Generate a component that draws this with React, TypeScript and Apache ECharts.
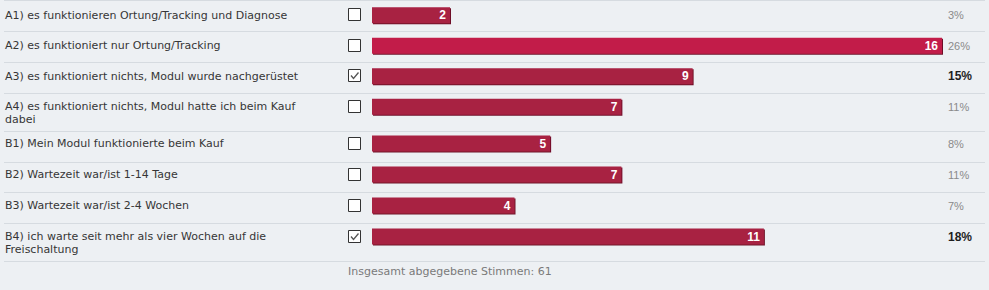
import React, { useEffect, useRef } from "react";
import * as echarts from "echarts";

const labelsA = [
  "A1) es funktionieren Ortung/Tracking und Diagnose",
  "A2) es funktioniert nur Ortung/Tracking",
  "A3) es funktioniert nichts, Modul wurde nachgerüstet",
  "A4) es funktioniert nichts, Modul hatte ich beim Kauf\ndabei",
];
const valuesA = [2, 16, 9, 7];
const checkedA = [0, 0, 1, 0];
const percentA = ["3%", "26%", "15%", "11%"];

const labelsB = [
  "B1) Mein Modul funktionierte beim Kauf",
  "B2) Wartezeit war/ist 1-14 Tage",
  "B3) Wartezeit war/ist 2-4 Wochen",
  "B4) ich warte seit mehr als vier Wochen auf die\nFreischaltung",
];
const valuesB = [5, 7, 4, 11];
const checkedB = [0, 0, 0, 1];
const percentB = ["8%", "11%", "7%", "18%"];

const footerLabel = "Insgesamt abgegebene Stimmen: ";

const LABEL_FONT = "DejaVu Sans";
const NUM_FONT = "Liberation Sans";

export default function App() {
  const ref = useRef<HTMLDivElement>(null);
  useEffect(() => {
    if (!ref.current) return;
    const chart = echarts.init(ref.current, undefined, { renderer: "svg" });
    const allValues = [...valuesA, ...valuesB];
    const maxV = Math.max(...allValues);
    const total = allValues.reduce((a, b) => a + b, 0);

    const groups = [
      { labels: labelsA, values: valuesA, checked: checkedA, pct: percentA, top: -2 },
      { labels: labelsB, values: valuesB, checked: checkedB, pct: percentB, top: 128 },
    ];

    const grid: any[] = [];
    const xAxis: any[] = [];
    const yAxis: any[] = [];
    const series: any[] = [];

    groups.forEach((g, gi) => {
      grid.push({ left: 372, width: 570, top: g.top, height: 124 });
      xAxis.push({
        gridIndex: gi,
        type: "value",
        min: 0,
        max: maxV,
        show: false,
      });
      yAxis.push({
        gridIndex: gi,
        type: "category",
        inverse: true,
        data: g.labels,
        axisLine: { show: false },
        axisTick: { show: false },
        splitLine: { show: false },
        axisLabel: {
          interval: 0,
          align: "left",
          margin: 367,
          color: "#363636",
          fontFamily: LABEL_FONT,
          fontSize: 11,
          lineHeight: 13,
          formatter: (v: string) => (v.includes("\n") ? "\n" + v : v),
        },
      });
      yAxis.push({
        gridIndex: gi,
        type: "category",
        inverse: true,
        position: "right",
        data: g.pct,
        axisLine: { show: false },
        axisTick: { show: false },
        splitLine: { show: false },
        axisLabel: {
          interval: 0,
          align: "left",
          margin: 6,
          formatter: (v: string, idx: number) =>
            g.checked[idx] ? `{b|${v}}` : `{n|${v}}`,
          rich: {
            b: { fontFamily: NUM_FONT, fontSize: 12, fontWeight: "bold", color: "#1e1e1e" },
            n: { fontFamily: NUM_FONT, fontSize: 11, color: "#8a8a8a" },
          },
        },
      });
      series.push({
        type: "bar",
        xAxisIndex: gi,
        yAxisIndex: gi * 2,
        data: g.values,
        barWidth: 16,
        barMinHeight: 78,
        itemStyle: {
          color: (p: any) => (p.value === maxV ? "#c21f49" : "#a82243"),
          shadowColor: "#6e1128",
          shadowOffsetX: 1,
          shadowOffsetY: 1,
          shadowBlur: 0,
        },
        label: {
          show: true,
          position: "insideRight",
          distance: 4,
          color: "#ffffff",
          fontFamily: NUM_FONT,
          fontWeight: "bold",
          fontSize: 12,
        },
      });
      series.push({
        type: "custom",
        xAxisIndex: gi,
        yAxisIndex: gi * 2,
        clip: false,
        data: g.checked.map((c, i) => [0, i, c]),
        encode: { x: 0, y: 1 },
        renderItem: (params: any, api: any) => {
          const p = api.coord([0, api.value(1)]);
          const x0 = p[0] - 23.5;
          const y0 = Math.round(p[1]) - 6.5;
          const children: any[] = [
            {
              type: "rect",
              shape: { x: x0, y: y0, width: 12, height: 12 },
              style: { fill: "#ffffff", stroke: "#333333", lineWidth: 1 },
            },
          ];
          if (api.value(2)) {
            children.push({
              type: "polyline",
              shape: {
                points: [
                  [x0 + 2.5, y0 + 6],
                  [x0 + 5, y0 + 9],
                  [x0 + 10, y0 + 3],
                ],
              },
              style: { stroke: "#555555", lineWidth: 1.3, fill: null },
            });
          }
          return { type: "group", children };
        },
      });
    });

    const sepYs = [0.5, 31.5, 62.5, 93.5, 131.5, 162.5, 192.5, 223.5, 261.5];
    const graphic: any[] = sepYs.map((y) => ({
      type: "line",
      shape: { x1: 4, y1: y, x2: 985, y2: y },
      style: { stroke: "#d6dbe0", lineWidth: 1 },
      silent: true,
    }));
    graphic.push({
      type: "text",
      x: 348,
      y: 271,
      style: {
        text: footerLabel + total,
        fill: "#7a7a7a",
        font: `11px "${LABEL_FONT}"`,
        verticalAlign: "middle",
      },
    });

    chart.setOption({
      animation: false,
      backgroundColor: "#edf0f3",
      grid,
      xAxis,
      yAxis,
      series,
      graphic,
    });
    return () => chart.dispose();
  }, []);
  return (
    <div
      ref={ref}
      style={{ position: "absolute", left: 0, top: 0, width: 989, height: 290 }}
    />
  );
}
